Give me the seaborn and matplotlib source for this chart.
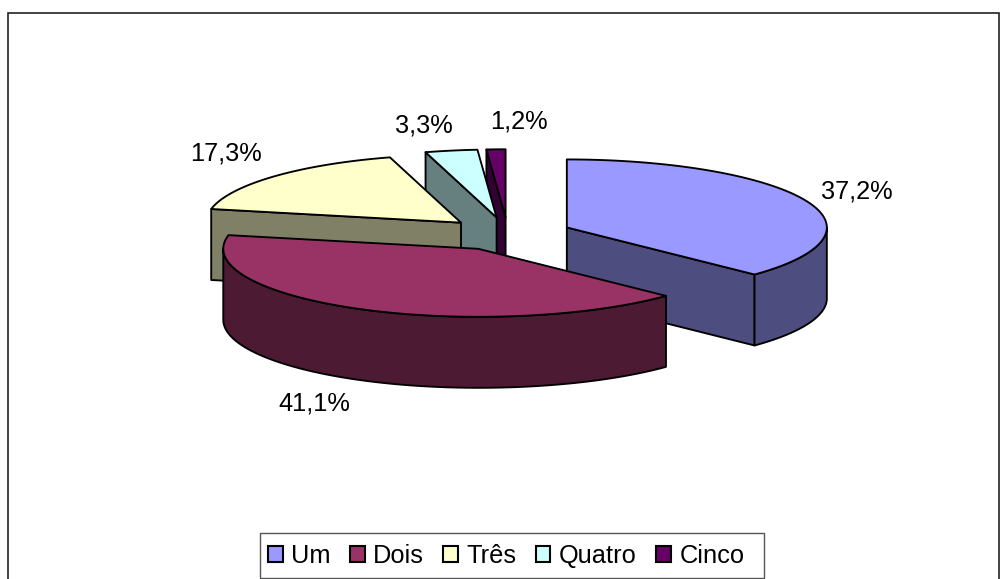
import numpy as np
import matplotlib
matplotlib.use("Agg")
import matplotlib.pyplot as plt
from matplotlib.patches import Patch, Rectangle
import seaborn as sns

categories = ["Um", "Dois", "Três", "Quatro", "Cinco"]
shares = [37.2, 41.1, 17.3, 3.3, 1.2]
share_labels = ["37,2%", "41,1%", "17,3%", "3,3%", "1,2%"]
top_hex = ["#9999FF", "#993366", "#FFFFCC", "#CCFFFF", "#660066"]
side_hex = ["#4D4D80", "#4D1A33", "#808066", "#668080", "#330033"]

sns.set_theme(style="white")
plt.rcParams["font.family"] = ["Liberation Sans", "DejaVu Sans"]
top_colors = sns.color_palette(top_hex)
side_colors = sns.color_palette(side_hex)

fig, ax = plt.subplots(figsize=(10, 5.79), dpi=100)
ax.set_position([0, 0, 1, 1])
ax.set_xlim(0, 1000)
ax.set_ylim(579, 0)
ax.axis("off")

ax.add_patch(Rectangle((7.5, 12.5), 991, 600, fc="white", ec="#222222", lw=1.2, zorder=0))

# pie projection
CX, CY, RX, RX_LEFT, RY, DEPTH, EXPLODE = 508, 234, 260, 255, 68, 71, 0.246
LW = 1.35
fracs = np.array(shares) / sum(shares) * 360
ends = np.cumsum(fracs)
starts = ends - fracs


def rim(cx, cy, a0, a1):
    t = np.radians(np.linspace(a0, a1, max(2, int(abs(a1 - a0) * 2))))
    s = np.sin(t)
    return cx + np.where(s < 0, RX_LEFT, RX) * s, cy - RY * np.cos(t)


def centre(a0, a1):
    m = np.radians((a0 + a1) / 2)
    return CX + EXPLODE * RX * np.sin(m), CY - EXPLODE * RY * np.cos(m)


def face(x, y, color, z):
    ax.fill(x, y, facecolor=color, edgecolor="black", lw=LW, joinstyle="round", zorder=z)


paint_order = [4, 3, 2, 0, 1]
for z, i in enumerate(paint_order, start=1):
    a0, a1 = starts[i], ends[i]
    cx, cy = centre(a0, a1)
    # radial cut faces
    for a, visible in ((a0, np.sin(np.radians(a0)) < -1e-6), (a1, np.sin(np.radians(a1)) > 1e-6)):
        if visible:
            rx, ry = rim(cx, cy, a, a)
            rx, ry = rx[0], ry[0]
            face([cx, rx, rx, cx], [cy, ry, ry + DEPTH, cy + DEPTH], side_colors[i], z)
    # outer wall
    lo, hi = max(a0, 90), min(a1, 270)
    if hi > lo:
        xs, ys = rim(cx, cy, lo, hi)
        face(np.r_[xs, xs[::-1]], np.r_[ys, ys[::-1] + DEPTH], side_colors[i], z)
    # top face
    xs, ys = rim(cx, cy, a0, a1)
    face(np.r_[cx, xs], np.r_[cy, ys], top_colors[i], z + 0.5)

label_xy = [(857, 191), (314, 403), (226, 154), (424, 126), (519, 122)]
for s, (x, y) in zip(share_labels, label_xy):
    ax.text(x, y, s, fontsize=18.3, color="black", ha="center", va="center", zorder=20)

# legend box: the reference has a wider right margin than left
ax.add_patch(Rectangle((259.5, 533), 504, 45, fc="white", ec="#555555", lw=1.0, zorder=29))
handles = [Patch(facecolor=c, edgecolor="black", lw=1.5) for c in top_colors]
leg = ax.legend(handles, categories, ncol=5, loc="center left", bbox_to_anchor=(268, 556.1),
                bbox_transform=ax.transData, fontsize=18.3, labelcolor="black", frameon=False,
                handlelength=0.58, handleheight=0.6, handletextpad=0.34, columnspacing=0.75,
                borderpad=0, borderaxespad=0)
leg.set_zorder(30)

fig.savefig("out.png", dpi=100)
